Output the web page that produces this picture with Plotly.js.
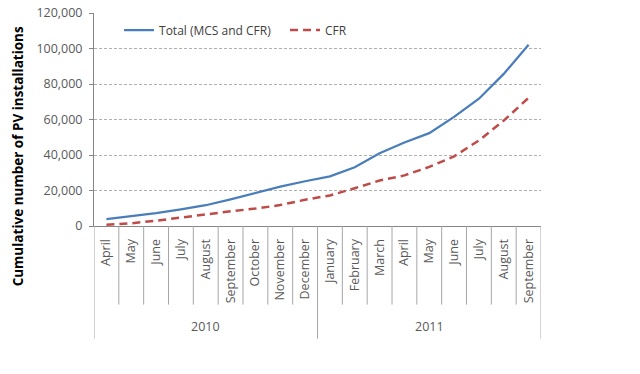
<!DOCTYPE html>
<html>
<head>
<meta charset="utf-8">
<script src="https://cdn.plot.ly/plotly-3.0.1.min.js"></script>
<style>html,body{margin:0;padding:0;background:#fff;}#chart{width:640px;height:374px;}</style>
</head>
<body>
<div id="chart"></div>
<script>
var months = ["April","May","June","July","August","September","October","November","December",
              "January","February","March","April","May","June","July","August","September"];
var years = ["2010","2011"];
var yearCounts = [9, 9];
var total = [3900, 5500, 7200, 9400, 11700, 15000, 18700, 22200, 25200,
             28000, 33100, 41000, 47000, 52300, 61500, 71700, 85700, 102100];
var cfr = [700, 1500, 3000, 4800, 6700, 8300, 9800, 11800, 14800,
           17200, 21300, 25600, 28500, 33300, 39200, 48200, 59400, 72200];
var yTicks = [0, 20000, 40000, 60000, 80000, 100000, 120000];

var idx = months.map(function(_, i){ return i; });
var font = "Open Sans, sans-serif";

var traces = [
  {x: idx, y: total, type: "scatter", mode: "lines", name: "Total (MCS and CFR)",
   line: {color: "#4A7EBB", width: 2.25}},
  {x: idx, y: cfr, type: "scatter", mode: "lines", name: "CFR",
   line: {color: "#BE4B48", width: 2.5, dash: "8px,5px"}}
];

var shapes = [];
var longBounds = [0];
var acc = 0;
yearCounts.forEach(function(c){ acc += c; longBounds.push(acc); });
for (var b = 0; b <= months.length; b++) {
  var isLong = longBounds.indexOf(b) >= 0;
  shapes.push({type: "line", xref: "x", yref: "paper", x0: b - 0.5, x1: b - 0.5,
               y0: 0, y1: isLong ? -0.529 : -0.369,
               line: {color: "#A6A6A6", width: 1}});
}

var annotations = [];
var start = 0;
years.forEach(function(yr, k){
  var end = start + yearCounts[k] - 1;
  annotations.push({text: yr, xref: "x", yref: "paper", x: (start + end) / 2, y: -0.473,
                    showarrow: false, font: {family: font, size: 12.5, color: "#595959"},
                    xanchor: "center", yanchor: "middle"});
  start = end + 1;
});
annotations.push({text: "<b>Cumulative number of PV installations</b>", xref: "paper", yref: "paper",
                  x: -0.17, y: 0.327, textangle: -90, showarrow: false,
                  font: {family: font, size: 13.5, color: "#000"},
                  xanchor: "center", yanchor: "middle"});

var layout = {
  width: 640, height: 374,
  margin: {l: 94, r: 99, t: 13, b: 148},
  paper_bgcolor: "#fff", plot_bgcolor: "#fff",
  font: {family: font, size: 12.5, color: "#595959"},
  showlegend: true,
  legend: {orientation: "h", x: 0.056, y: 0.92, xanchor: "left", yanchor: "middle",
           font: {family: font, size: 12, color: "#404040"}, bgcolor: "rgba(0,0,0,0)",
           entrywidth: 121, entrywidthmode: "pixels"},
  xaxis: {range: [-0.5, months.length - 0.5], tickvals: idx, ticktext: months,
          tickangle: -90, ticks: "", showgrid: false, zeroline: false,
          showline: true, linecolor: "#868686", linewidth: 1,
          ticklabelstandoff: 7, fixedrange: true,
          tickfont: {family: font, size: 12.5, color: "#595959"}},
  yaxis: {range: [0, 120000], tickvals: yTicks, tickformat: ",", ticks: "outside",
          ticklen: 4, tickcolor: "#868686", showline: true, linecolor: "#868686",
          linewidth: 1, zeroline: false, showgrid: true, gridcolor: "#B0B0B0",
          griddash: "3px,2px", gridwidth: 1, ticklabelstandoff: 4,
          tickfont: {family: font, size: 12.5, color: "#595959"}},
  shapes: shapes,
  annotations: annotations
};

Plotly.newPlot("chart", traces, layout, {displayModeBar: false, staticPlot: true});
</script>
</body>
</html>
